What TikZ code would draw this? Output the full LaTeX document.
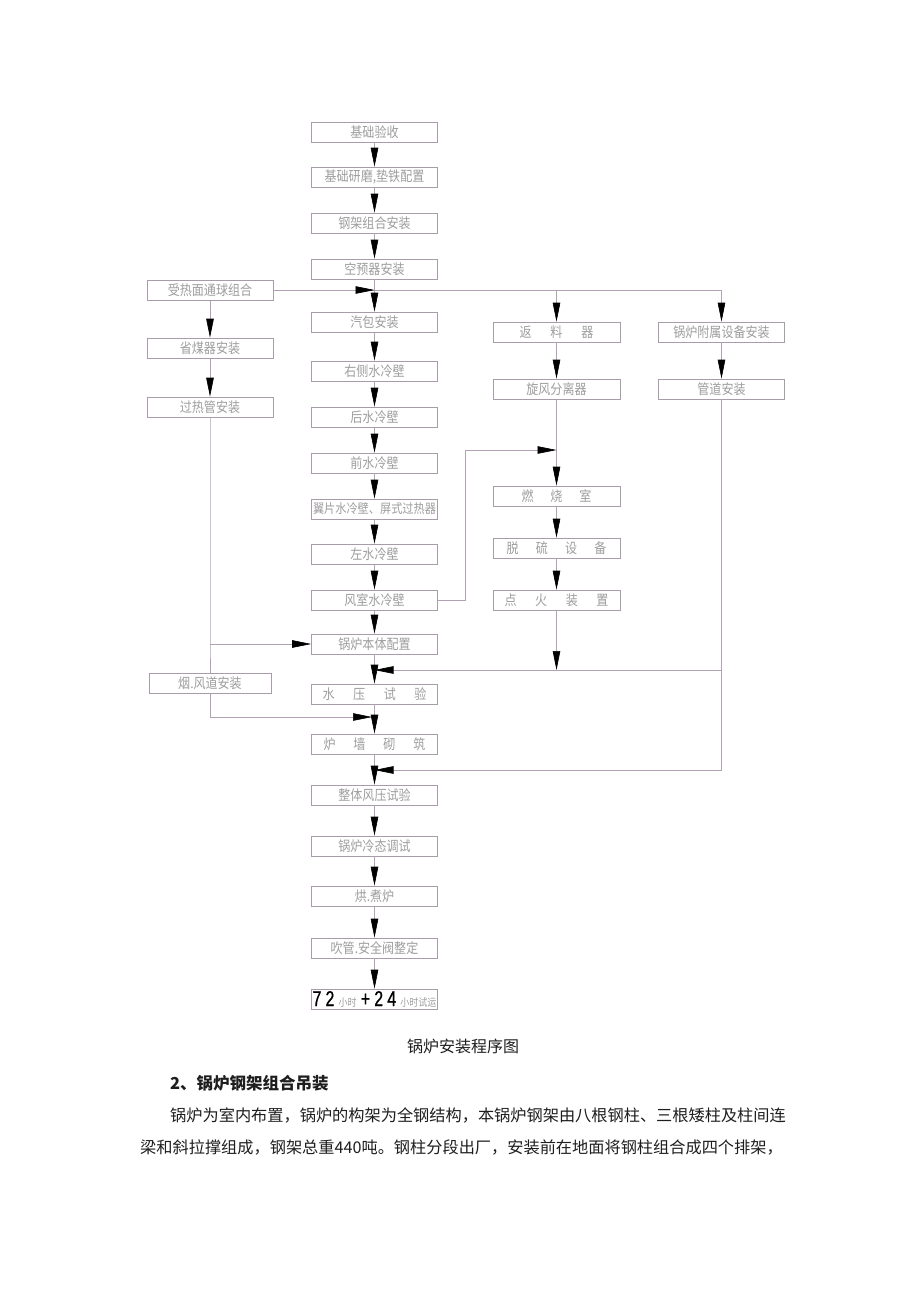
\documentclass[tikz,border=0pt]{standalone}
\usepackage{fontspec}
\newfontfamily\cjk{Noto Sans CJK SC}
\newfontfamily\cad[FakeStretch=0.86]{Noto Sans CJK SC}
\newfontfamily\dig[FakeStretch=0.74,FakeBold=0.8]{Liberation Sans}
\usetikzlibrary{arrows.meta}
\definecolor{lncol}{RGB}{178,160,180}
\definecolor{bxcol}{RGB}{168,156,170}
\definecolor{txcol}{RGB}{158,158,158}
\definecolor{blk}{RGB}{30,30,30}
\begin{document}
\begin{tikzpicture}[x=1pt,y=-1pt,
  box/.style={draw=bxcol, line width=0.6pt, minimum width=126pt, minimum height=20pt,
    inner sep=0pt, font=\cad\fontsize{14}{14}\selectfont, text=txcol},
  conn/.style={draw=lncol, line width=0.6pt},
  arr/.style={conn, -{Triangle[length=19pt,width=7.5pt,color=black]}},
  para/.style={anchor=west, inner sep=0pt, font=\cjk\fontsize{16.2}{16.2}\selectfont, text=blk}
]
\useasboundingbox (0,0) rectangle (920,1302);
\fill[white] (0,0) rectangle (920,1302);

% main column
\node[box] (a1) at (374.5,132) {基础验收};
\node[box] (a2) at (374.5,177) {基础研磨,垫铁配置};
\node[box] (a3) at (374.5,223) {钢架组合安装};
\node[box] (a4) at (374.5,269) {空预器安装};
\node[box] (a5) at (374.5,322) {汽包安装};
\node[box] (a6) at (374.5,371) {右侧水冷壁};
\node[box] (a7) at (374.5,417) {后水冷壁};
\node[box] (a8) at (374.5,463) {前水冷壁};
\node[box, font=\cad\fontsize{13}{13}\selectfont] (a9) at (374.5,509) {翼片水冷壁、屏式过热器};
\node[box] (a10) at (374.5,554) {左水冷壁};
\node[box] (a11) at (374.5,600) {风室水冷壁};
\node[box] (a12) at (374.5,644) {锅炉本体配置};
\node[box] (a13) at (374.5,694) {\makebox[104pt][s]{水\hfill 压\hfill 试\hfill 验}};
\node[box] (a14) at (374.5,744) {\makebox[102pt][s]{炉\hfill 墙\hfill 砌\hfill 筑}};
\node[box] (a15) at (374.5,795) {整体风压试验};
\node[box] (a16) at (374.5,846) {锅炉冷态调试};
\node[box] (a17) at (374.5,896) {烘.煮炉};
\node[box] (a18) at (374.5,948) {吹管.安全阀整定};
\node[box, font=\dig\fontsize{21.5}{21.5}\selectfont, text=black] (a19) at (374.5,999)
  {\makebox[124pt][s]{7\hfill 2\hfill{\cad\fontsize{10.5}{10.5}\selectfont\color{txcol}小时}\hfill +\hfill 2\hfill 4\hfill{\cad\fontsize{10.5}{10.5}\selectfont\color{txcol}小时试运}}};

% left column
\node[box] (l1) at (210,290) {受热面通球组合};
\node[box] (l2) at (210,348) {省煤器安装};
\node[box] (l3) at (210,407) {过热管安装};
\node[box, minimum width=122pt] (l4) at (210,683) {烟.风道安装};

% right columns
\node[box, minimum width=127pt] (r1) at (556.5,332) {\makebox[74pt][s]{返\hfill 料\hfill 器}};
\node[box, minimum width=127pt] (r2) at (556.5,389) {旋风分离器};
\node[box, minimum width=127pt] (r3) at (556.5,496) {\makebox[70pt][s]{燃\hfill 烧\hfill 室}};
\node[box, minimum width=127pt] (r4) at (556.5,548) {\makebox[100pt][s]{脱\hfill 硫\hfill 设\hfill 备}};
\node[box, minimum width=127pt] (r5) at (556.5,600) {\makebox[104pt][s]{点\hfill 火\hfill 装\hfill 置}};
\node[box] (r6) at (721.5,332) {锅炉附属设备安装};
\node[box] (r7) at (721.5,389) {管道安装};

% main column arrows
\foreach \i/\j in {a1/a2,a2/a3,a3/a4,a4/a5,a5/a6,a6/a7,a7/a8,a8/a9,a9/a10,a10/a11,a11/a12,a12/a13,a13/a14,a14/a15,a15/a16,a16/a17,a17/a18,a18/a19}
  \draw[arr] (\i.south) -- (\j.north);

% left column
\draw[arr] (l1.south) -- (l2.north);
\draw[arr] (l2.south) -- (l3.north);
\coordinate (j1) at (l3.south |- a12.west);
\draw[conn] (l3.south) -- (j1) -- (l4.north);
\draw[arr] (j1) -- (a12.west);
\coordinate (j2) at (210,717);
\coordinate (m2) at (372,717);
\draw[conn] (l4.south) -- (j2);
\draw[arr] (j2) -- (m2);

% top distribution line
\coordinate (t1) at (a5.north |- l1.east);
\coordinate (t2) at (r1.north |- l1.east);
\coordinate (t3) at (r6.north |- l1.east);
\draw[conn] (l1.east) -- (t3);
\draw[arr] (l1.east) -- (t1);
\draw[arr] (t2) -- (r1.north);
\draw[arr] (t3) -- (r6.north);

% right column 1
\draw[arr] (r1.south) -- (r2.north);
\draw[arr] (r2.south) -- (r3.north);
\draw[arr] (r3.south) -- (r4.north);
\draw[arr] (r4.south) -- (r5.north);
\coordinate (f1) at (465.5,600);
\coordinate (f2) at (465.5,450);
\coordinate (f3) at (556.5,450);
\draw[arr] (a11.east) -- (f1) -- (f2) -- (f3);
\coordinate (g1) at (556.5,670);
\draw[arr] (r5.south) -- (g1);

% right column 2
\draw[arr] (r6.south) -- (r7.north);
\coordinate (h1) at (721.5,670);
\coordinate (h2) at (721.5,770);
\coordinate (m1) at (374.5,670);
\coordinate (m3) at (374.5,770);
\draw[conn] (r7.south) -- (h1) -- (h2);
\draw[arr] (h1) -- (m1);
\draw[arr] (h2) -- (m3);

% caption and text
\node[inner sep=0pt, font=\cjk\fontsize{16}{16}\selectfont, text=blk] (cap) at (463,1046) {锅炉安装程序图};
\node[para, font=\cjk\bfseries\fontsize{16.5}{16.5}\selectfont] (hd) at (170,1083) {2、锅炉钢架组合吊装};
\node[para] (p1) at (170,1115) {锅炉为室内布置，锅炉的构架为全钢结构，本锅炉钢架由八根钢柱、三根矮柱及柱间连};
\node[para] (p2) at (140,1147) {梁和斜拉撑组成，钢架总重440吨。钢柱分段出厂，安装前在地面将钢柱组合成四个排架，};
\end{tikzpicture}
\end{document}
